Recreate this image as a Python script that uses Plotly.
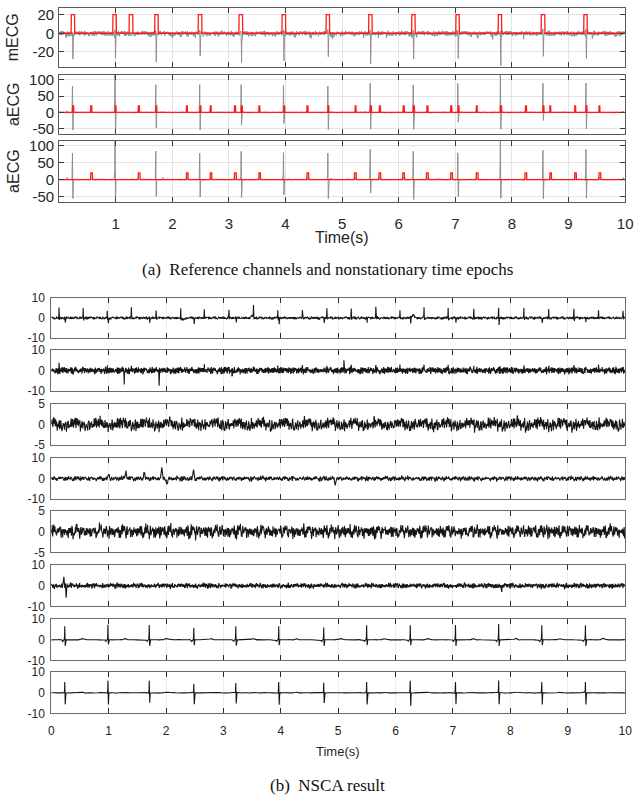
import numpy as np
import plotly.graph_objs as go
from plotly.subplots import make_subplots

FS = 250
T_END = 10

# maternal beat times (s) and per-beat amplitudes
mat_beats = [0.24, 0.99, 1.71, 2.49, 3.22, 3.97, 4.75, 5.50, 6.26, 7.05, 7.80, 8.55, 9.31]
mecg_depth = [-28, -26, -30, -25, -32, -29, -25, -30, -29, -27, -32, -26, -27]
aecg1_r = [80, 118, 85, 85, 85, 82, 80, 88, 85, 88, 118, 88, 88]
aecg1_s = [-55, -70, -47, -55, -40, -35, -52, -52, -52, -30, -52, -25, -52]
aecg2_r = [79, 118, 84, 79, 84, 79, 79, 89, 84, 79, 118, 87, 89]
aecg2_s = [-56, -70, -51, -51, -53, -46, -56, -40, -59, -51, -59, -56, -56]
b7_r = [6.5, 7.3, 7.1, 5.9, 6.5, 6.5, 5.9, 7.1, 7.1, 7.1, 7.6, 7.1, 7.1]
b7_s = [-3.0, -2.2, -3.0, -2.6, -3.0, -2.6, -3.0, -2.6, -2.6, -3.0, -3.0, -2.6, -3.0]
b8_r = [5.2, 5.9, 5.9, 4.3, 4.8, 5.2, 4.8, 5.2, 5.9, 5.2, 5.9, 5.2, 5.2]
b8_s = [-5.6, -5.6, -4.9, -5.6, -5.2, -5.6, -4.9, -5.6, -6.3, -5.6, -5.6, -5.6, -5.6]

# fetal beat times (s)
fet_beats = [0.14, 0.56, 0.98, 1.40, 1.83, 2.26, 2.67, 3.10, 3.53, 3.95, 4.38, 4.81,
             5.23, 5.66, 6.08, 6.50, 6.92, 7.37, 7.80, 8.24, 8.67, 9.11, 9.54, 9.97]
b1_fet_amp = [5.0, 4.5, 3.0, 5.5, 4.0, 5.0, 4.5, 4.0, 5.5, 4.0, 4.5, 5.0,
              4.5, 5.5, 4.0, 5.0, 4.5, 4.0, 4.5, 5.0, 4.5, 4.5, 4.0, 3.5]

# nonstationary epochs (red windows)
mecg_epochs = [0.215, 0.95, 1.24, 1.69, 2.46, 3.18, 3.94, 4.72, 5.47, 6.23, 7.01, 7.76, 8.52, 9.27]
aecg1_epochs = [0.24, 0.56, 0.99, 1.40, 1.71, 2.25, 2.49, 2.67, 3.10, 3.22, 3.53, 3.97, 4.38,
                4.75, 5.23, 5.50, 5.66, 6.08, 6.26, 6.50, 6.92, 7.05, 7.37, 7.80, 8.24, 8.55,
                8.67, 9.11, 9.31, 9.54]
aecg2_epochs = [0.56, 1.40, 2.25, 2.67, 3.10, 3.53, 4.38, 5.22, 5.65, 6.07, 6.49, 6.92, 7.37,
                8.23, 8.67, 9.11, 9.54]

# isolated artefacts in the NSCA components
b2_event_t = [1.27, 1.88, 3.15, 5.10, 6.95]
b2_event_a = [-5.0, -7.0, -3.0, 3.5, -2.5]
b4_event_t = [1.00, 1.30, 1.62, 1.93, 2.02, 2.48, 4.95]
b4_event_a = [2.0, 4.5, 3.0, 5.0, -3.0, 4.0, -2.5]
b6_event_t = [0.22, 0.26, 4.00, 7.85]
b6_event_a = [3.5, -6.0, -2.5, -3.0]

NOISE = [0.31, -0.72, 0.05, 0.88, -0.41, -0.13, 0.64, -0.95, 0.22, 0.47,
         -0.58, 0.79, -0.06, -0.83, 0.36, 0.12, -0.29, 0.93, -0.67, 0.54,
         -0.18, -0.44, 0.71, 0.02, -0.87, 0.39, 0.60, -0.33, -0.09, 0.83,
         -0.76, 0.27, 0.15, -0.52, 0.96, -0.21, -0.63, 0.44, 0.08, -0.98,
         0.58, -0.37, 0.19, 0.74, -0.11, -0.69, 0.33, 0.90, -0.47, -0.02,
         0.66, -0.84, 0.41, -0.25, 0.13, 0.81, -0.56, -0.15, 0.49, -0.91,
         0.24, 0.70, -0.39, 0.06, -0.78, 0.55, 0.35, -0.61, -0.04, 0.86,
         -0.27, 0.17, -0.89, 0.62, 0.43, -0.50, 0.09, 0.77, -0.70, -0.23,
         0.52, -0.12, 0.99, -0.45, -0.81, 0.28, 0.68, -0.35, 0.04, -0.59,
         0.85, -0.17, 0.37, -0.93, 0.57, 0.11, -0.65, 0.46, -0.31, 0.73, -0.08]

t = np.arange(0, T_END, 1 / FS)
N = len(t)
NZ = np.array(NOISE)


def noise(a, b, c, d, smooth=1):
    i = np.arange(N)
    v = 0.65 * NZ[(i * a + b) % 101] + 0.35 * NZ[(i * c + d) % 89]
    if smooth > 1:
        v = np.convolve(v, np.ones(smooth) / smooth, mode='same') * np.sqrt(smooth) * 0.8
    return v


def beats(times, up, down):
    x = np.zeros(N)
    for tb, r, s in zip(times, up, down):
        k = int(round(tb * FS))
        for off, wr, ws in [(-3, 0.05, 0), (-2, 0.25, 0), (-1, 1.0, 0), (0, 0.3, 0.3),
                            (1, 0, 1.0), (2, 0, 0.35), (3, 0, 0.1)]:
            if 0 <= k + off < N:
                x[k + off] += wr * r + ws * s
    return x


def bumps(times, amps, width):
    x = np.zeros(N)
    kern = np.bartlett(2 * width + 1)
    for tb, a in zip(times, amps):
        k = int(round(tb * FS))
        for j, w in enumerate(kern):
            if 0 <= k - width + j < N:
                x[k - width + j] += a * w
    return x


def pulses(starts, width, height):
    y = np.zeros(N)
    for s in starts:
        y[(t >= s - 1e-9) & (t <= s + width)] = height
    return y


nm = len(mat_beats)
nf = len(fet_beats)
mecg = (beats(mat_beats, [3] * nm, mecg_depth) + 3.0 * noise(37, 5, 23, 11)
        - 6.0 * np.abs(noise(53, 2, 41, 7)) ** 4)
aecg1 = beats(mat_beats, aecg1_r, aecg1_s) + bumps(fet_beats, [4] * nf, 2) + 2.5 * noise(29, 17, 31, 3, 2)
aecg2 = beats(mat_beats, aecg2_r, aecg2_s) + bumps(fet_beats, [6] * nf, 2) + 2.5 * noise(43, 9, 19, 40, 2)
red1 = pulses(mecg_epochs, 0.06, 20)
red2 = pulses(aecg1_epochs, 0.016, 20)
red3 = pulses(aecg2_epochs, 0.03, 20)

b1 = (beats(fet_beats, b1_fet_amp, [-0.8] * nf) + beats(mat_beats, [0.5] * nm, [-2.5] * nm)
      + 0.9 * noise(11, 3, 47, 21, 2) + bumps([2.3, 3.5, 6.3], [-1.2, 1.0, 1.5], 12))
b2 = beats(fet_beats, [2.5] * nf, [-0.5] * nf) + bumps(b2_event_t, b2_event_a, 2) + 2.0 * noise(59, 31, 13, 5)
b3 = 2.3 * noise(71, 44, 67, 29, 2)
b4 = bumps(b4_event_t, b4_event_a, 6) + 1.6 * noise(23, 61, 37, 50, 2)
b5 = 2.2 * noise(89, 12, 53, 77, 2)
b6 = bumps(b6_event_t, b6_event_a, 3) + 1.7 * noise(47, 88, 71, 15, 2)
b7 = (beats(mat_beats, b7_r, b7_s) + bumps([tb + 0.3 for tb in mat_beats], [0.7] * nm, 12)
      + bumps([tb - 0.04 for tb in mat_beats], [-0.8] * nm, 5) + 0.12 * noise(13, 7, 29, 33, 3))
b8 = beats(mat_beats, b8_r, b8_s) + bumps([tb + 0.3 for tb in mat_beats], [0.3] * nm, 12) + 0.15 * noise(61, 19, 83, 2, 3)

W, H = 640, 803


def fx(px):
    return px / W


def fy(py):
    return 1 - py / H


fig = make_subplots(rows=11, cols=1)

# pixel boxes (top, bottom) of each axis
top_boxes = [(1, 61), (69, 129), (136, 198)]
bot_boxes = [(296, 337), (349, 391), (404, 446), (459, 501), (513, 555),
             (568, 610), (623, 665), (677, 719)]

GRAY = '#8e8e8e'
top_sig = [mecg, aecg1, aecg2]
top_red = [red1, red2, red3]
for i in range(3):
    fig.add_trace(go.Scatter(x=t, y=top_sig[i], mode='lines', line=dict(color=GRAY, width=1)), i + 1, 1)
    fig.add_trace(go.Scatter(x=t, y=top_red[i], mode='lines', line=dict(color='#ff1a1a', width=1.3)), i + 1, 1)

bot_sig = [b1, b2, b3, b4, b5, b6, b7, b8]
for i, y in enumerate(bot_sig):
    fig.add_trace(go.Scatter(x=t, y=y, mode='lines', line=dict(color='#161616', width=1.1)), i + 4, 1)

tick_font_top = dict(family='Liberation Sans, Arial', size=15, color='#262626')
tick_font_bot = dict(family='Liberation Sans, Arial', size=12, color='#262626')

top_ranges = [[-36, 27], [-65, 115], [-65, 115]]
top_ticks = [[-20, 0, 20], [-50, 0, 50, 100], [-50, 0, 50, 100]]
for i in range(3):
    r = i + 1
    y0, y1 = top_boxes[i]
    fig.update_xaxes(row=r, col=1, domain=[fx(57), fx(632)], range=[0, 10],
                     tickvals=list(range(1, 11)), showticklabels=(i == 2),
                     ticks='inside', ticklen=5, tickcolor='#3a3a3a', showline=True,
                     linecolor='#5a5a5a', linewidth=1, mirror='allticks', showgrid=True,
                     gridcolor='#e4e4e4', gridwidth=1, zeroline=False, tickfont=tick_font_top,
                     ticklabelstandoff=8)
    fig.update_yaxes(row=r, col=1, domain=[fy(y1), fy(y0)], range=top_ranges[i],
                     tickvals=top_ticks[i], ticktext=[str(v) for v in top_ticks[i]],
                     ticks='inside', ticklen=5, tickcolor='#3a3a3a', showline=True,
                     linecolor='#5a5a5a', linewidth=1, mirror='allticks', showgrid=True,
                     gridcolor='#e4e4e4', gridwidth=1, zeroline=False, tickfont=tick_font_top,
                     ticklabelstandoff=1)

bot_ranges = [10, 10, 5, 10, 5, 10, 10, 10]
for i in range(8):
    r = i + 4
    y0, y1 = bot_boxes[i]
    m = bot_ranges[i]
    fig.update_xaxes(row=r, col=1, domain=[fx(49), fx(632)], range=[0, 10],
                     tickvals=list(range(0, 11)), showticklabels=(i == 7),
                     ticks='inside', ticklen=5, tickcolor='#2a2a2a', showline=True,
                     linecolor='#6a6a6a', linewidth=1, mirror='allticks', showgrid=True,
                     gridcolor='#ececec', gridwidth=1, zeroline=False, tickfont=tick_font_bot,
                     ticklabelstandoff=6)
    fig.update_yaxes(row=r, col=1, domain=[fy(y1), fy(y0)], range=[-m, m],
                     tickvals=[-m, 0, m], ticktext=['-%d' % m, '0', '%d' % m],
                     ticks='', showline=True, linecolor='#6a6a6a', linewidth=1, mirror=True,
                     showgrid=False, zeroline=False, tickfont=tick_font_bot, ticklabelstandoff=3)


def label(x, y, text, size, family='Liberation Sans, Arial', color='#262626', angle=0):
    return dict(x=fx(x), y=fy(y), text=text, textangle=angle, showarrow=False,
                xref='paper', yref='paper', xanchor='center', yanchor='middle',
                font=dict(family=family, size=size, color=color))


ann = []
for i, name in enumerate(['mECG', 'aECG', 'aECG']):
    y0, y1 = top_boxes[i]
    ann.append(label(10, (y0 + y1) / 2, name, 16, angle=-90))
ann.append(label(344, 235, 'Time(s)', 16))
ann.append(label(340, 758, 'Time(s)', 13))
serif = 'Liberation Serif, Times New Roman'
ann.append(label(330, 267, '(a)  Reference channels and nonstationary time epochs', 17, serif, '#111111'))
ann.append(label(330, 792, '(b)  NSCA result', 17, serif, '#111111'))

fig.update_layout(width=W, height=H, margin=dict(l=0, r=0, t=0, b=0), showlegend=False,
                  plot_bgcolor='white', paper_bgcolor='white', annotations=ann)
fig.write_html("out.html", config={'displayModeBar': False},
               post_script="document.body.style.margin='0';")
